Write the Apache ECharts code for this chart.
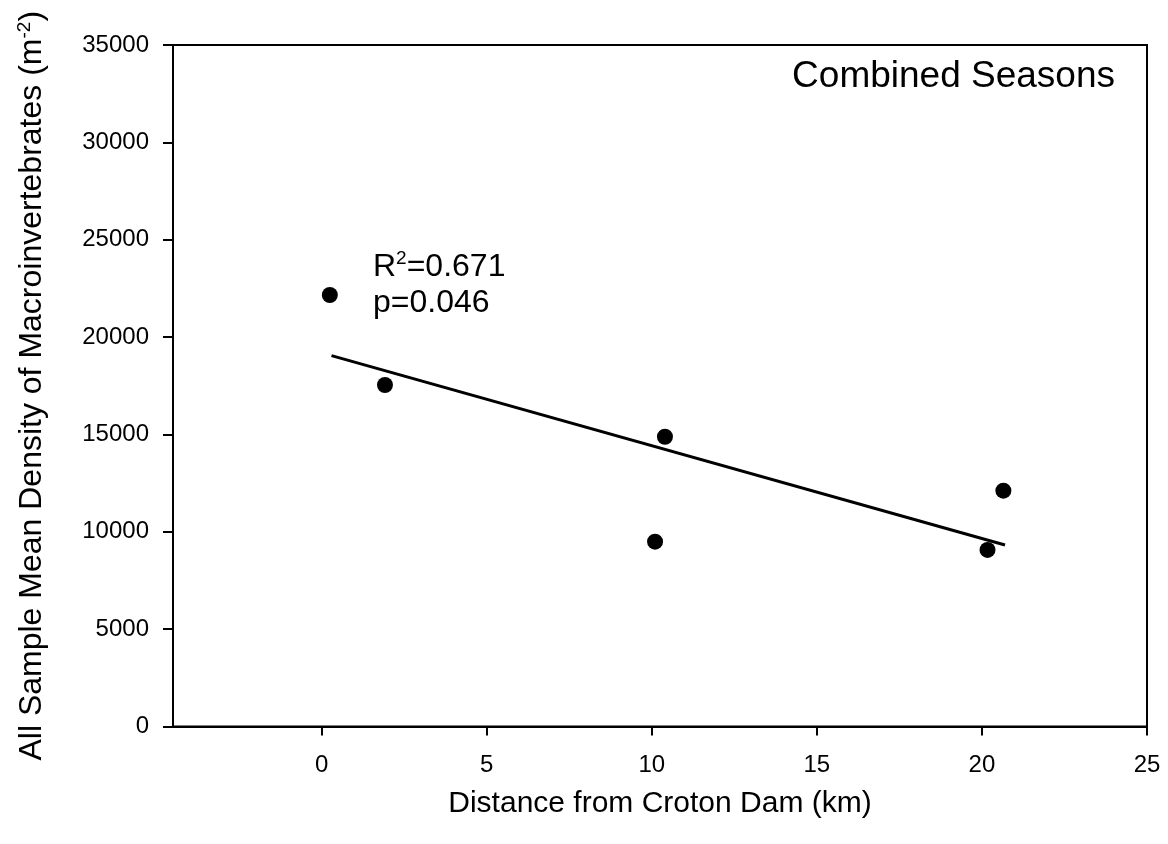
<!DOCTYPE html>
<html>
<head>
<meta charset="utf-8">
<script src="https://cdn.jsdelivr.net/npm/echarts@6/dist/echarts.min.js"></script>
<style>html,body{margin:0;padding:0;background:#fff}#c{width:1168px;height:844px}</style>
</head>
<body>
<div id="c"></div>
<script>
// Data
const distanceKm = [0.25, 1.92, 10.10, 10.40, 20.17, 20.65];
const density = [22160, 17540, 9490, 14880, 9070, 12110];
const fitX = [0.3, 20.7];
const fitY = [19050, 9320];
const xTicks = [0, 5, 10, 15, 20, 25];
const yTicks = [0, 5000, 10000, 15000, 20000, 25000, 30000, 35000];
const panelLabel = 'Combined Seasons';
const statR2 = '0.671';
const statP = '0.046';

const FONT = 'Liberation Sans, Arial, sans-serif';
const chart = echarts.init(document.getElementById('c'), null, {renderer: 'canvas'});
const pts = distanceKm.map((x, i) => [x, density[i]]);
const fit = fitX.map((x, i) => [x, fitY[i]]);

chart.setOption({
  animation: false,
  backgroundColor: '#fff',
  grid: {left: 173, right: 21, top: 45, bottom: 117.5, show: true, borderColor: '#000', borderWidth: 2, containLabel: false},
  xAxis: {
    type: 'value', min: -4.5, max: 25,
    name: 'Distance from Croton Dam (km)', nameLocation: 'middle', nameGap: 62,
    nameTextStyle: {fontFamily: FONT, fontSize: 30, color: '#000'},
    axisLine: {show: true, onZero: false, lineStyle: {color: '#000', width: 2}},
    axisTick: {show: true, inside: false, length: 9, lineStyle: {color: '#000', width: 2}, customValues: xTicks},
    axisLabel: {fontFamily: FONT, fontSize: 24, color: '#000', margin: 27, customValues: xTicks, formatter: v => String(v)},
    splitLine: {show: false}
  },
  yAxis: {
    type: 'value', min: 0, max: 35000, interval: 5000,
    name: '{a|All Sample Mean Density of Macroinvertebrates (m}{s|-2}{a|)}',
    nameLocation: 'middle', nameGap: 124, nameRotate: 90,
    nameTextStyle: {fontFamily: FONT, fontSize: 32, color: '#000',
      rich: {a: {fontFamily: FONT, fontSize: 32, color: '#000'}, s: {fontFamily: FONT, fontSize: 19, color: '#000', verticalAlign: 'top', padding: [0, 0, 15, 0]}}},
    axisLine: {show: true, onZero: false, lineStyle: {color: '#000', width: 2}},
    axisTick: {show: true, inside: false, length: 10, lineStyle: {color: '#000', width: 2}},
    axisLabel: {fontFamily: FONT, fontSize: 24, color: '#000', margin: 24, customValues: yTicks, formatter: v => String(v)},
    splitLine: {show: false}
  },
  series: [
    {type: 'line', data: fit, symbol: 'none', lineStyle: {color: '#000', width: 3}, z: 2},
    {type: 'scatter', data: pts, symbol: 'circle', symbolSize: 16, itemStyle: {color: '#000', opacity: 1}, z: 3}
  ],
  graphic: [
    {type: 'text', right: 53, top: 58, style: {text: panelLabel, font: '37px ' + FONT, fill: '#000'}},
    {type: 'text', left: 373, top: 249, style: {
      text: '{a|R}{s|2}{a|=' + statR2 + '}\n{a|p=' + statP + '}',
      fill: '#000',
      rich: {a: {font: '32px ' + FONT, fill: '#000', lineHeight: 36}, s: {font: '19px ' + FONT, fill: '#000', verticalAlign: 'top', lineHeight: 36, padding: [0, 0, 14, 0]}}
    }}
  ]
});
</script>
</body>
</html>
